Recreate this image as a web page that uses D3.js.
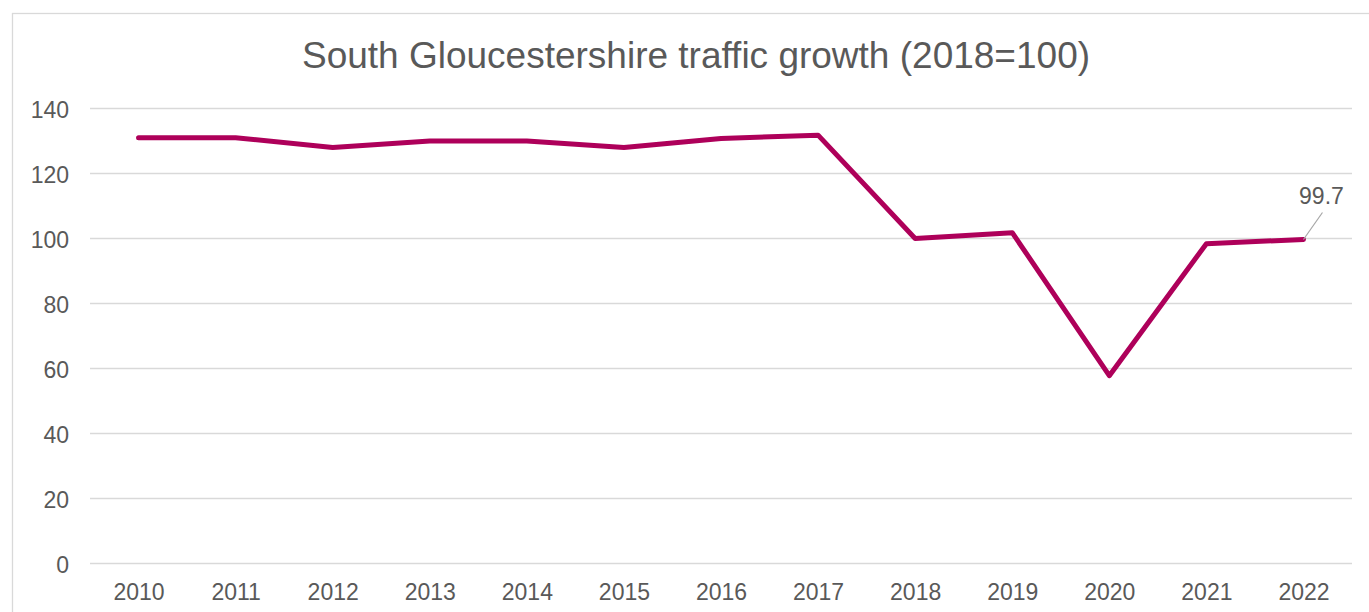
<!DOCTYPE html>
<html>
<head>
<meta charset="utf-8">
<script src="https://cdn.jsdelivr.net/npm/d3@7"></script>
<style>
  body { margin: 0; background: #fff; }
  text { font-family: "Liberation Sans", Arial, sans-serif; fill: #595959; }
</style>
</head>
<body>
<div id="chart"></div>
<script>
// chart values
var years = ["2010","2011","2012","2013","2014","2015","2016","2017","2018","2019","2020","2021","2022"];
var growth = [131, 131, 128, 130, 130, 128, 130.8, 131.8, 100, 101.8, 57.8, 98.4, 99.7];
var yTicks = [0, 20, 40, 60, 80, 100, 120, 140];
var titleText = "South Gloucestershire traffic growth (2018=100)";

var W = 1369, H = 612;
var svg = d3.select("#chart").append("svg")
    .attr("width", W)
    .attr("height", H);

// outer chart border
svg.append("rect")
    .attr("x", 12.5).attr("y", 13.5)
    .attr("width", 1400).attr("height", 700)
    .attr("fill", "none")
    .attr("stroke", "#d9d9d9")
    .attr("stroke-width", 1.3);

var x = d3.scalePoint()
    .domain(years)
    .range([90, 1352])
    .padding(0.5);

var y = d3.scaleLinear()
    .domain([0, 140])
    .range([563.5, 108.5]);

// gridlines
svg.append("g")
  .selectAll("line")
  .data(yTicks)
  .join("line")
    .attr("x1", 90).attr("x2", 1352)
    .attr("y1", function(d) { return y(d); })
    .attr("y2", function(d) { return y(d); })
    .attr("stroke", "#d9d9d9")
    .attr("stroke-width", 1.5);

// y axis labels
var yAxis = svg.append("g")
    .attr("transform", "translate(69,0)")
    .call(d3.axisLeft(y).tickValues(yTicks).tickSize(0).tickPadding(0));
yAxis.select(".domain").remove();
yAxis.selectAll("text")
    .attr("font-size", 23)
    .attr("dy", "0.38em");

// x axis labels
var xAxis = svg.append("g")
    .attr("transform", "translate(0,583)")
    .call(d3.axisBottom(x).tickSize(0).tickPadding(0));
xAxis.select(".domain").remove();
xAxis.selectAll("text")
    .attr("font-size", 23)
    .attr("dy", "0.75em");

// the line
svg.append("path")
    .datum(growth)
    .attr("fill", "none")
    .attr("stroke", "#ae005a")
    .attr("stroke-width", 5)
    .attr("stroke-linejoin", "round")
    .attr("stroke-linecap", "round")
    .attr("d", d3.line()
      .x(function(d, i) { return x(years[i]); })
      .y(function(d) { return y(d); })
    );

// label on last point with leader line
var last = growth.length - 1;
var lx = x(years[last]), ly = y(growth[last]);
svg.append("line")
    .attr("x1", lx).attr("y1", ly)
    .attr("x2", lx + 19).attr("y2", ly - 27)
    .attr("stroke", "#a6a6a6")
    .attr("stroke-width", 1.2);
svg.append("text")
    .attr("x", lx + 18).attr("y", ly - 35)
    .attr("text-anchor", "middle")
    .attr("font-size", 23)
    .text(growth[last]);

// title
svg.append("text")
    .attr("x", 696).attr("y", 68)
    .attr("text-anchor", "middle")
    .attr("font-size", 37)
    .text(titleText);
</script>
</body>
</html>
